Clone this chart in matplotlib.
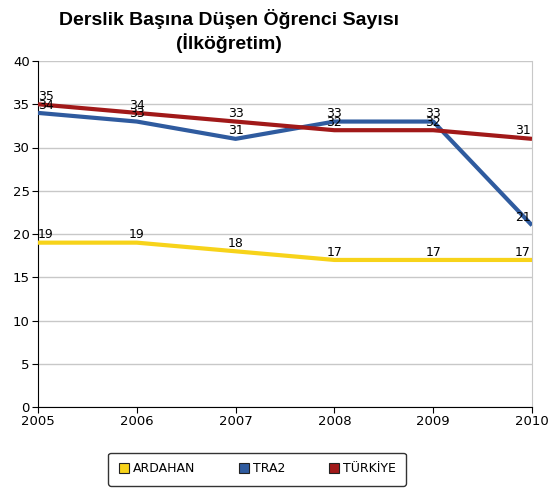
import matplotlib
matplotlib.use("Agg")
import matplotlib.pyplot as plt
from matplotlib.lines import Line2D

years = [2005, 2006, 2007, 2008, 2009, 2010]
ardahan = [19, 19, 18, 17, 17, 17]
tra2 = [34, 33, 31, 33, 33, 21]
turkiye = [35, 34, 33, 32, 32, 31]
series_names = ["ARDAHAN", "TRA2", "TÜRKİYE"]
colors = ["#F7D31A", "#2F5B9F", "#A11919"]
title = "Derslik Başına Düşen Öğrenci Sayısı\n(İlköğretim)"

plt.rcParams['font.family'] = ['DejaVu Sans']

fig = plt.figure(figsize=(5.56, 4.93), dpi=100)
ax = fig.add_axes([38/556, 1-407/493, (532-38)/556, (407-61)/493])

data = [ardahan, tra2, turkiye]
for vals, c in zip(data, colors):
    ax.plot(years, vals, color=c, lw=3.0, solid_capstyle='butt', zorder=3)

for vals in data:
    for i, (x, v) in enumerate(zip(years, vals)):
        ha = 'center'
        dx = 0
        if i == 0:
            ha = 'left'; dx = 0
        elif i == len(years) - 1:
            ha = 'right'; dx = -1
        ax.annotate(str(v), (x, v), xytext=(dx, 1), textcoords='offset points',
                    ha=ha, va='bottom', fontsize=9, color='black', zorder=4)

ax.set_xlim(2005, 2010)
ax.set_ylim(0, 40)
ax.set_yticks(range(0, 41, 5))
ax.set_xticks(years)
ax.tick_params(axis='both', labelsize=9.5, length=4, direction='out', color='black', pad=2)
ax.grid(axis='y', color='#C8C8C8', lw=1)
ax.set_axisbelow(True)
ax.spines['top'].set_visible(False)
ax.spines['right'].set_color('#C8C8C8')
ax.spines['left'].set_color('black')
ax.spines['bottom'].set_color('black')

fig.text(229/556, 1-31/493, title, ha='center', va='center', fontsize=14,
         fontweight='bold', linespacing=1.3,
         family=['Liberation Sans', 'DejaVu Sans'])

handles = [Line2D([], [], marker='s', linestyle='none', markersize=7,
                  markerfacecolor=c, markeredgecolor='#222222', markeredgewidth=0.8)
           for c in colors]
leg = fig.legend(handles, series_names, loc='center', ncol=3,
                 bbox_to_anchor=(257/556, 1-469/493), fontsize=9,
                 frameon=True, fancybox=True, edgecolor='black',
                 handletextpad=0.2, columnspacing=3.4, borderpad=0.8,
                 handlelength=1.0)
leg.get_frame().set_linewidth(1.0)

fig.savefig("out.png", dpi=100)
